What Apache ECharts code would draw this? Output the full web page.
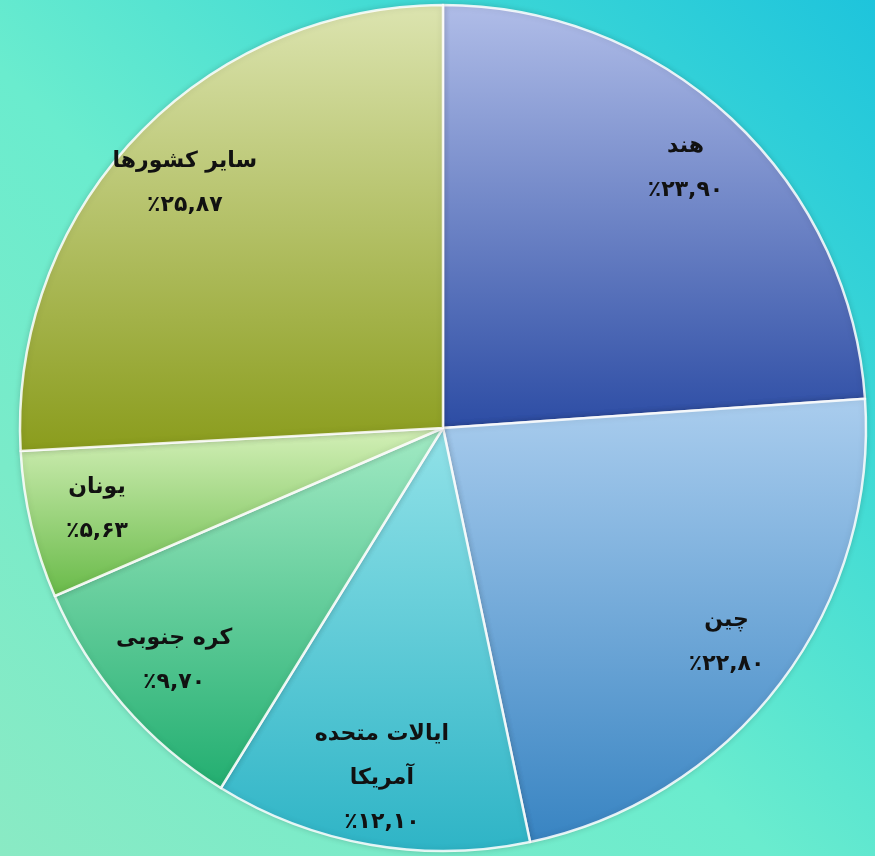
<!DOCTYPE html>
<html>
<head>
<meta charset="utf-8">
<script src="https://cdn.jsdelivr.net/npm/echarts@6/dist/echarts.min.js"></script>
<style>
  html, body { margin: 0; padding: 0; }
  #chart { width: 875px; height: 856px; }
</style>
</head>
<body>
<div id="chart"></div>
<script>
// سهم کشورها
const countries = ['هند', 'چین', 'ایالات متحده\nآمریکا', 'کره جنوبی', 'یونان', 'سایر کشورها']
const shares = [23.90, 22.80, 12.10, 9.70, 5.63, 25.87]
// رنگ بالا و پایین هر برش
const topColors = ['#b0bde8', '#aacdee', '#92e2e8', '#a2eac4', '#d4f0b8', '#dce4b0']
const bottomColors = ['#2c4ca4', '#3884c2', '#2eb4c6', '#22ae70', '#68ba48', '#8a9c1c']

const faDigits = '۰۱۲۳۴۵۶۷۸۹'
function toFa(num) {
  return num.toFixed(2).replace('.', ',').replace(/[0-9]/g, d => faDigits[d])
}

const chart = echarts.init(document.getElementById('chart'))

const pieData = countries.map((name, i) => ({
  name: name,
  value: shares[i],
  itemStyle: {
    color: new echarts.graphic.LinearGradient(0, 0, 0, 1, [
      { offset: 0, color: topColors[i] },
      { offset: 1, color: bottomColors[i] },
    ]),
  },
}))

const labelData = countries.map((name, i) => ({ name: name, value: shares[i] }))

const option = {
  backgroundColor: new echarts.graphic.LinearGradient(1, 0, 0, 1, [
    { offset: 0, color: '#1ec4dc' },
    { offset: 0.3, color: '#44dcd4' },
    { offset: 0.55, color: '#6aecce' },
    { offset: 1, color: '#8aeac4' },
  ]),
  animation: false,
  series: [
    {
      type: 'pie',
      center: [443, 428],
      radius: [0, 423],
      startAngle: 90,
      clockwise: true,
      label: { show: false },
      labelLine: { show: false },
      itemStyle: {
        borderColor: 'rgba(255,255,255,0.85)',
        borderWidth: 2.5,
        shadowColor: 'rgba(0,0,0,0.15)',
        shadowBlur: 6,
      },
      emphasis: { disabled: true },
      data: pieData,
    },
    {
      // فقط برچسب‌ها
      type: 'pie',
      silent: true,
      center: [443, 428],
      radius: [282, 423],
      startAngle: 90,
      clockwise: true,
      itemStyle: { color: 'transparent' },
      labelLine: { show: false },
      label: {
        show: true,
        position: 'inside',
        color: '#111',
        fontFamily: 'DejaVu Sans',
        fontWeight: 'bold',
        fontSize: 22,
        lineHeight: 44,
        formatter: p => p.name + '\n٪' + toFa(p.value),
      },
      emphasis: { disabled: true },
      data: labelData,
    },
  ],
}

chart.setOption(option)
</script>
</body>
</html>
